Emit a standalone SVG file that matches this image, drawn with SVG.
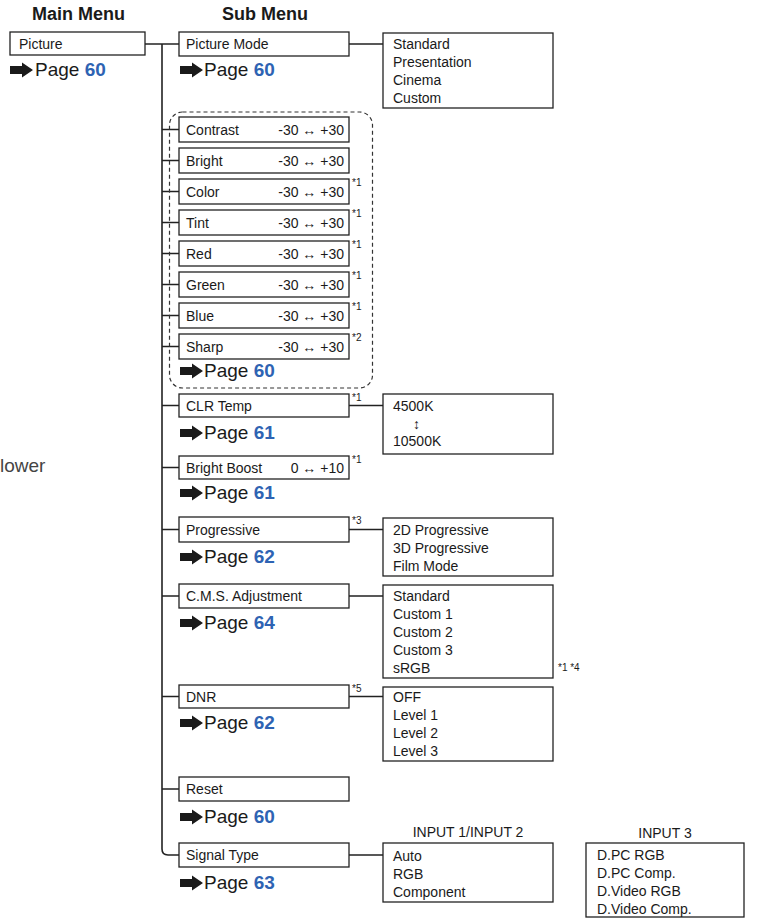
<svg xmlns="http://www.w3.org/2000/svg" width="760" height="918" viewBox="0 0 760 918">
<style>
text{font-family:"Liberation Sans",Arial,sans-serif;fill:#1a1a1a}
.t{font-size:14px}
.h{font-size:18px;font-weight:bold}
.pg{font-size:19px}
.pg .n{font-weight:bold;fill:#2e63b3}
.fn{font-size:10px}
.b{fill:#fff;stroke:#222;stroke-width:1.3}
.c{fill:none;stroke:#222;stroke-width:1.6}
.d{fill:none;stroke:#333;stroke-width:1.2;stroke-dasharray:4 3}
.v{text-anchor:end}
</style>
<defs>
<path id="ar" d="M0,-4 H12 V-7.5 L23,0 L12,7.5 V4 H0 Z" fill="#1a1a1a"/>
</defs>
<text class="h" x="32" y="20">Main Menu</text>
<text class="h" x="222" y="20">Sub Menu</text>
<text x="0" y="472" style="font-size:19px;fill:#444">lower</text>

<g id="connectors">
<path class="c" d="M145,44 H179"/>
<path class="c" d="M162,44 V849 Q162,855 168,855 H179"/>
<path class="c" d="M162,129.5 H179 M162,160.5 H179 M162,191.5 H179 M162,222.5 H179 M162,253.5 H179 M162,284.5 H179 M162,315.5 H179 M162,346.5 H179"/>
<path class="c" d="M162,405.5 H179 M162,467.5 H179 M162,529.5 H179 M162,596 H179 M162,696.5 H179 M162,789 H179"/>
<path class="c" d="M349,44 H383 M349,405.5 H383 M349,529.5 H383 M349,596 H383 M349,696.5 H383 M349,855 H383"/>
</g>

<g id="picture">
<rect class="b" x="10" y="32" width="135" height="23"/>
<text class="t" x="19" y="49">Picture</text>
<use href="#ar" x="10" y="70"/>
<text class="pg" x="35" y="76">Page <tspan class="n">60</tspan></text>
</g>

<g id="picture-mode">
<rect class="b" x="179" y="32" width="170" height="24"/>
<text class="t" x="186" y="49">Picture Mode</text>
<use href="#ar" x="180" y="70"/>
<text class="pg" x="204" y="76">Page <tspan class="n">60</tspan></text>
</g>
<g id="picture-mode-opts">
<rect class="b" x="383" y="33" width="170" height="75"/>
<text class="t" x="393" y="49">Standard</text>
<text class="t" x="393" y="67">Presentation</text>
<text class="t" x="393" y="85">Cinema</text>
<text class="t" x="393" y="103">Custom</text>
</g>

<g id="adjust-group">
<rect class="d" x="169.5" y="112" width="203" height="276" rx="13"/>
<use href="#ar" x="180" y="371"/>
<text class="pg" x="204" y="377">Page <tspan class="n">60</tspan></text>
</g>
<g id="contrast"><rect class="b" x="179" y="117" width="170" height="25"/><text class="t" x="186" y="135">Contrast</text><text class="t v" x="344" y="135">-30 ↔ +30</text></g>
<g id="bright"><rect class="b" x="179" y="148" width="170" height="25"/><text class="t" x="186" y="166">Bright</text><text class="t v" x="344" y="166">-30 ↔ +30</text></g>
<g id="color"><rect class="b" x="179" y="179" width="170" height="25"/><text class="t" x="186" y="197">Color</text><text class="t v" x="344" y="197">-30 ↔ +30</text><text class="fn" x="352" y="186">*1</text></g>
<g id="tint"><rect class="b" x="179" y="210" width="170" height="25"/><text class="t" x="186" y="228">Tint</text><text class="t v" x="344" y="228">-30 ↔ +30</text><text class="fn" x="352" y="217">*1</text></g>
<g id="red"><rect class="b" x="179" y="241" width="170" height="25"/><text class="t" x="186" y="259">Red</text><text class="t v" x="344" y="259">-30 ↔ +30</text><text class="fn" x="352" y="248">*1</text></g>
<g id="green"><rect class="b" x="179" y="272" width="170" height="25"/><text class="t" x="186" y="290">Green</text><text class="t v" x="344" y="290">-30 ↔ +30</text><text class="fn" x="352" y="279">*1</text></g>
<g id="blue"><rect class="b" x="179" y="303" width="170" height="25"/><text class="t" x="186" y="321">Blue</text><text class="t v" x="344" y="321">-30 ↔ +30</text><text class="fn" x="352" y="310">*1</text></g>
<g id="sharp"><rect class="b" x="179" y="334" width="170" height="25"/><text class="t" x="186" y="352">Sharp</text><text class="t v" x="344" y="352">-30 ↔ +30</text><text class="fn" x="352" y="341">*2</text></g>

<g id="clr-temp">
<rect class="b" x="179" y="394" width="170" height="23"/>
<text class="t" x="186" y="411">CLR Temp</text>
<text class="fn" x="352" y="401">*1</text>
<use href="#ar" x="180" y="433"/>
<text class="pg" x="204" y="439">Page <tspan class="n">61</tspan></text>
</g>
<g id="clr-temp-opts">
<rect class="b" x="383" y="394" width="170" height="60"/>
<text class="t" x="393" y="411">4500K</text>
<text class="t" x="413" y="429">↕</text>
<text class="t" x="393" y="446">10500K</text>
</g>

<g id="bright-boost">
<rect class="b" x="179" y="456" width="170" height="23"/>
<text class="t" x="186" y="473">Bright Boost</text>
<text class="t v" x="344" y="473">0 ↔ +10</text>
<text class="fn" x="352" y="463">*1</text>
<use href="#ar" x="180" y="493"/>
<text class="pg" x="204" y="499">Page <tspan class="n">61</tspan></text>
</g>

<g id="progressive">
<rect class="b" x="179" y="517" width="170" height="25"/>
<text class="t" x="186" y="535">Progressive</text>
<text class="fn" x="352" y="524">*3</text>
<use href="#ar" x="180" y="557"/>
<text class="pg" x="204" y="563">Page <tspan class="n">62</tspan></text>
</g>
<g id="progressive-opts">
<rect class="b" x="383" y="518" width="170" height="58"/>
<text class="t" x="393" y="535">2D Progressive</text>
<text class="t" x="393" y="553">3D Progressive</text>
<text class="t" x="393" y="571">Film Mode</text>
</g>

<g id="cms">
<rect class="b" x="179" y="584" width="170" height="24"/>
<text class="t" x="186" y="601">C.M.S. Adjustment</text>
<use href="#ar" x="180" y="623"/>
<text class="pg" x="204" y="629">Page <tspan class="n">64</tspan></text>
</g>
<g id="cms-opts">
<rect class="b" x="383" y="585" width="170" height="93"/>
<text class="t" x="393" y="601">Standard</text>
<text class="t" x="393" y="619">Custom 1</text>
<text class="t" x="393" y="637">Custom 2</text>
<text class="t" x="393" y="655">Custom 3</text>
<text class="t" x="393" y="673">sRGB</text>
<text class="fn" x="558" y="671">*1 *4</text>
</g>

<g id="dnr">
<rect class="b" x="179" y="685" width="170" height="23"/>
<text class="t" x="186" y="702">DNR</text>
<text class="fn" x="352" y="692">*5</text>
<use href="#ar" x="180" y="723"/>
<text class="pg" x="204" y="729">Page <tspan class="n">62</tspan></text>
</g>
<g id="dnr-opts">
<rect class="b" x="383" y="687" width="170" height="74"/>
<text class="t" x="393" y="702">OFF</text>
<text class="t" x="393" y="720">Level 1</text>
<text class="t" x="393" y="738">Level 2</text>
<text class="t" x="393" y="756">Level 3</text>
</g>

<g id="reset">
<rect class="b" x="179" y="777" width="170" height="24"/>
<text class="t" x="186" y="794">Reset</text>
<use href="#ar" x="180" y="817"/>
<text class="pg" x="204" y="823">Page <tspan class="n">60</tspan></text>
</g>

<g id="signal-type">
<rect class="b" x="179" y="843" width="170" height="24"/>
<text class="t" x="186" y="860">Signal Type</text>
<use href="#ar" x="180" y="883"/>
<text class="pg" x="204" y="889">Page <tspan class="n">63</tspan></text>
</g>
<g id="input12-opts">
<text class="t" x="468" y="837" text-anchor="middle">INPUT 1/INPUT 2</text>
<rect class="b" x="383" y="843" width="170" height="59"/>
<text class="t" x="393" y="861">Auto</text>
<text class="t" x="393" y="879">RGB</text>
<text class="t" x="393" y="897">Component</text>
</g>
<g id="input3-opts">
<text class="t" x="665" y="838" text-anchor="middle">INPUT 3</text>
<rect class="b" x="586" y="843" width="158" height="74"/>
<text class="t" x="597" y="860">D.PC RGB</text>
<text class="t" x="597" y="878">D.PC Comp.</text>
<text class="t" x="597" y="896">D.Video RGB</text>
<text class="t" x="597" y="914">D.Video Comp.</text>
</g>
</svg>
